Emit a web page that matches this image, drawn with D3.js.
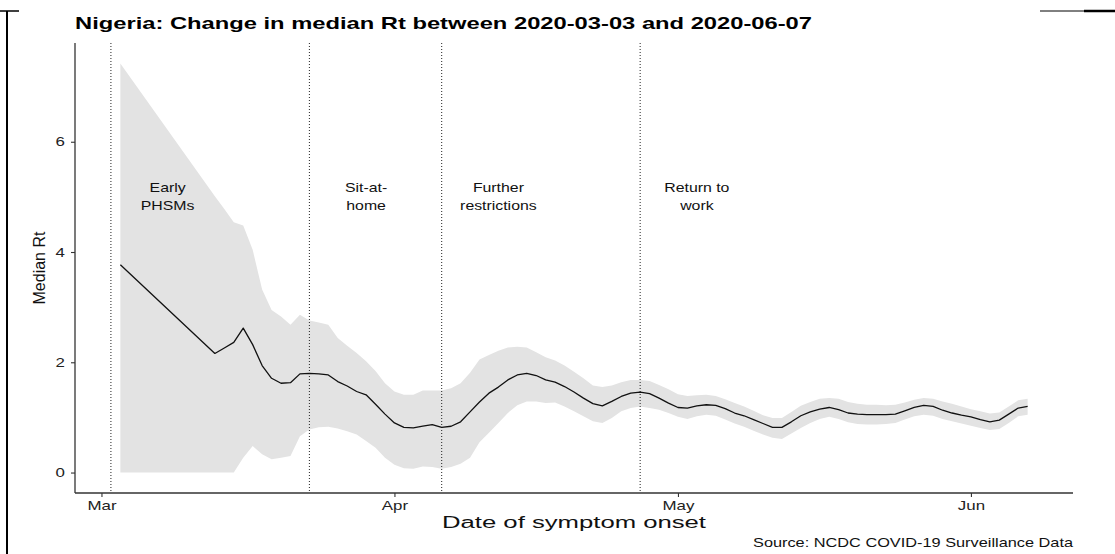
<!DOCTYPE html>
<html>
<head>
<meta charset="utf-8">
<script src="https://cdn.jsdelivr.net/npm/d3@7"></script>
<style>
  html, body { margin: 0; padding: 0; background: #fff; }
  svg { display: block; font-family: "Liberation Sans", Arial, sans-serif; }
</style>
</head>
<body>
<svg id="chart" width="1115" height="554"></svg>
<script>
// Daily estimates of the time-varying reproduction number (median and credible band)
const dates = [
  "2020-03-03",
  "2020-03-13","2020-03-14","2020-03-15","2020-03-16","2020-03-17","2020-03-18","2020-03-19","2020-03-20",
  "2020-03-21","2020-03-22","2020-03-23","2020-03-24","2020-03-25","2020-03-26","2020-03-27","2020-03-28",
  "2020-03-29","2020-03-30","2020-03-31",
  "2020-04-01","2020-04-02","2020-04-03","2020-04-04","2020-04-05","2020-04-06","2020-04-07","2020-04-08",
  "2020-04-09","2020-04-10","2020-04-11","2020-04-12","2020-04-13","2020-04-14","2020-04-15","2020-04-16",
  "2020-04-17","2020-04-18","2020-04-19","2020-04-20","2020-04-21","2020-04-22","2020-04-23","2020-04-24",
  "2020-04-25","2020-04-26","2020-04-27","2020-04-28","2020-04-29","2020-04-30",
  "2020-05-01","2020-05-02","2020-05-03","2020-05-04","2020-05-05","2020-05-06","2020-05-07","2020-05-08",
  "2020-05-09","2020-05-10","2020-05-11","2020-05-12","2020-05-13","2020-05-14","2020-05-15","2020-05-16",
  "2020-05-17","2020-05-18","2020-05-19","2020-05-20","2020-05-21","2020-05-22","2020-05-23","2020-05-24",
  "2020-05-25","2020-05-26","2020-05-27","2020-05-28","2020-05-29","2020-05-30","2020-05-31",
  "2020-06-01","2020-06-02","2020-06-03","2020-06-04","2020-06-05","2020-06-06","2020-06-07"
];

const medianRt = [
  3.77,
  2.16, 2.26, 2.36, 2.62, 2.32, 1.94, 1.71, 1.62, 1.63, 1.79, 1.80, 1.79, 1.77, 1.65, 1.57, 1.47, 1.41, 1.24, 1.06,
  0.90, 0.82, 0.81, 0.84, 0.87, 0.82, 0.84, 0.92, 1.10, 1.28, 1.44, 1.55, 1.68, 1.77, 1.80,
  1.76, 1.68, 1.64, 1.56, 1.46, 1.35, 1.25, 1.21, 1.29, 1.38, 1.44, 1.46, 1.43, 1.35, 1.26,
  1.18, 1.17, 1.21, 1.23, 1.22, 1.16, 1.08, 1.03, 0.96, 0.89, 0.82, 0.82, 0.92, 1.03, 1.10, 1.15,
  1.18, 1.14, 1.08, 1.06, 1.05, 1.05, 1.05, 1.06, 1.12, 1.18, 1.22, 1.20, 1.13, 1.08, 1.04,
  1.01, 0.96, 0.92, 0.95, 1.06, 1.17, 1.20
];

const upperRt = [
  7.42,
  5.01, 4.78, 4.54, 4.48, 4.04, 3.32, 2.95, 2.83, 2.68, 2.86, 2.76, 2.72, 2.68, 2.44, 2.30, 2.17, 2.02, 1.84, 1.62,
  1.47, 1.41, 1.41, 1.49, 1.49, 1.49, 1.53, 1.62, 1.81, 2.05, 2.13, 2.21, 2.27, 2.28, 2.27,
  2.18, 2.09, 2.03, 1.94, 1.83, 1.71, 1.58, 1.55, 1.58, 1.64, 1.68, 1.68, 1.66, 1.59, 1.51,
  1.42, 1.39, 1.40, 1.41, 1.39, 1.33, 1.26, 1.20, 1.12, 1.04, 0.99, 0.99, 1.10, 1.21, 1.28, 1.34,
  1.35, 1.34, 1.28, 1.25, 1.23, 1.23, 1.22, 1.23, 1.27, 1.32, 1.35, 1.34, 1.29, 1.25, 1.20,
  1.15, 1.11, 1.07, 1.09, 1.20, 1.31, 1.34
];

const lowerRt = [
  0,
  0, 0, 0, 0.27, 0.48, 0.33, 0.24, 0.27, 0.30, 0.66, 0.78, 0.82, 0.83, 0.80, 0.75, 0.69, 0.57, 0.45, 0.27,
  0.14, 0.08, 0.07, 0.11, 0.10, 0.07, 0.10, 0.16, 0.27, 0.55, 0.72, 0.90, 1.08, 1.22, 1.29,
  1.29, 1.26, 1.27, 1.20, 1.11, 1.02, 0.93, 0.90, 0.99, 1.11, 1.17, 1.20, 1.17, 1.14, 1.08,
  1.01, 0.97, 1.02, 1.05, 1.03, 0.96, 0.89, 0.83, 0.76, 0.69, 0.63, 0.61, 0.71, 0.81, 0.90, 0.97,
  1.01, 0.97, 0.91, 0.88, 0.87, 0.87, 0.88, 0.90, 0.96, 1.02, 1.05, 1.03, 0.97, 0.93, 0.89,
  0.85, 0.81, 0.77, 0.79, 0.90, 1.02, 1.05
];

// Policy phases: dates of the dotted markers and the text placed in each phase
const phaseStarts = ["2020-03-02", "2020-03-23", "2020-04-06", "2020-04-27"];
const phaseLabelDates = ["2020-03-08", "2020-03-29", "2020-04-12", "2020-05-03"];
const phaseLabels = [["Early", "PHSMs"], ["Sit-at-", "home"], ["Further", "restrictions"], ["Return to", "work"]];
const phaseLabelRt = 5;

const yTicks = [0, 2, 4, 6];
const xTickDates = ["2020-03-01", "2020-04-01", "2020-05-01", "2020-06-01"];
const xTickLabels = ["Mar", "Apr", "May", "Jun"];

const titleText = "Nigeria: Change in median Rt between 2020-03-03 and 2020-06-07";
const xTitle = "Date of symptom onset";
const yTitle = "Median Rt";
const captionText = "Source: NCDC COVID-19 Surveillance Data";

// ---------------------------------------------------------------------------
const parse = d3.timeParse("%Y-%m-%d");
const data = dates.map((d, i) => ({ date: parse(d), med: medianRt[i], lo: lowerRt[i], hi: upperRt[i] }));

const svg = d3.select("#chart");
const panel = { left: 75, right: 1073, top: 43, bottom: 493 };
const wide = 1.3; // horizontal widening of the lettering

// Scales with 5% padding around the data range
const [d0, d1] = d3.extent(data, d => d.date);
const xPad = (d1 - d0) * 0.05;
const x = d3.scaleTime()
  .domain([new Date(+d0 - xPad), new Date(+d1 + xPad)])
  .range([panel.left, panel.right]);

const yMin = d3.min(lowerRt), yMax = d3.max(upperRt);
const yPad = (yMax - yMin) * 0.05;
const y = d3.scaleLinear()
  .domain([yMin - yPad, yMax + yPad])
  .range([panel.bottom, panel.top]);

// Outer frame pieces
const frame = svg.append("g").attr("stroke", "#000").attr("fill", "none");
frame.append("line").attr("x1", 7).attr("x2", 7).attr("y1", 11).attr("y2", 554).attr("stroke-width", 2);
frame.append("line").attr("x1", 0).attr("x2", 19).attr("y1", 11).attr("y2", 11).attr("stroke-width", 1.5);
frame.append("line").attr("x1", 1040).attr("x2", 1084).attr("y1", 11).attr("y2", 11).attr("stroke-width", 1);
frame.append("line").attr("x1", 1084).attr("x2", 1115).attr("y1", 11).attr("y2", 11).attr("stroke-width", 2.5);

// Credible band
svg.append("path")
  .datum(data)
  .attr("fill", "#e3e3e3")
  .attr("d", d3.area().x(d => x(d.date)).y0(d => y(d.lo)).y1(d => y(d.hi)));

// Phase markers
svg.append("g")
  .selectAll("line")
  .data(phaseStarts.map(parse))
  .join("line")
  .attr("x1", d => x(d)).attr("x2", d => x(d))
  .attr("y1", panel.top).attr("y2", panel.bottom)
  .attr("stroke", "#222")
  .attr("stroke-width", 1)
  .attr("stroke-dasharray", "1,2");

// Median line
svg.append("path")
  .datum(data)
  .attr("fill", "none")
  .attr("stroke", "#111")
  .attr("stroke-width", 1.3)
  .attr("stroke-linejoin", "round")
  .attr("d", d3.line().x(d => x(d.date)).y(d => y(d.med)));

// Phase labels
const labels = svg.append("g")
  .attr("font-size", 12.2)
  .attr("fill", "#111")
  .attr("text-anchor", "middle");
phaseLabels.forEach((lines, i) => {
  const cx = x(parse(phaseLabelDates[i]));
  const cy = y(phaseLabelRt);
  lines.forEach((t, j) => {
    labels.append("text")
      .attr("transform", `translate(${cx},${cy + (j - 0.5) * 17.7 + 4.4}) scale(${wide},1)`)
      .text(t);
  });
});

// Axes
const yAxis = svg.append("g")
  .attr("transform", `translate(${panel.left},0)`)
  .call(d3.axisLeft(y).tickValues(yTicks).tickSize(4).tickPadding(6));
const xAxis = svg.append("g")
  .attr("transform", `translate(0,${panel.bottom})`)
  .call(d3.axisBottom(x).tickValues(xTickDates.map(parse))
    .tickFormat((d, i) => xTickLabels[i]).tickSize(4).tickPadding(4));

[yAxis, xAxis].forEach(g => {
  g.select(".domain").attr("stroke", "#333").attr("stroke-width", 1.3);
  g.selectAll(".tick line").attr("stroke", "#333").attr("stroke-width", 1.1);
  g.selectAll(".tick text")
    .attr("font-family", "Liberation Sans, Arial, sans-serif")
    .attr("font-size", 13)
    .attr("fill", "#222");
});
// the axis domain path draws the outer tick caps; keep only the straight lines
yAxis.select(".domain").attr("d", `M0,${panel.top}V${panel.bottom}`);
xAxis.select(".domain").attr("d", `M${panel.left},0H${panel.right}`);

yAxis.selectAll(".tick text")
  .attr("x", null)
  .attr("transform", `translate(-10,0) scale(${wide},1)`);
xAxis.selectAll(".tick text")
  .attr("transform", `scale(${wide},1)`);

// Titles
svg.append("text")
  .attr("x", panel.left).attr("y", 29)
  .attr("font-size", 17).attr("font-weight", "bold").attr("fill", "#000")
  .attr("textLength", 737).attr("lengthAdjust", "spacingAndGlyphs")
  .text(titleText);

svg.append("text")
  .attr("x", (panel.left + panel.right) / 2).attr("y", 528)
  .attr("text-anchor", "middle")
  .attr("font-size", 16).attr("fill", "#111")
  .attr("textLength", 264).attr("lengthAdjust", "spacingAndGlyphs")
  .text(xTitle);

svg.append("text")
  .attr("transform", `translate(45,${(panel.top + panel.bottom) / 2}) rotate(-90)`)
  .attr("text-anchor", "middle")
  .attr("font-size", 16).attr("fill", "#111")
  .text(yTitle);

svg.append("text")
  .attr("x", panel.right).attr("y", 547)
  .attr("text-anchor", "end")
  .attr("font-size", 12.6).attr("fill", "#111")
  .attr("textLength", 320).attr("lengthAdjust", "spacingAndGlyphs")
  .text(captionText);
</script>
</body>
</html>
